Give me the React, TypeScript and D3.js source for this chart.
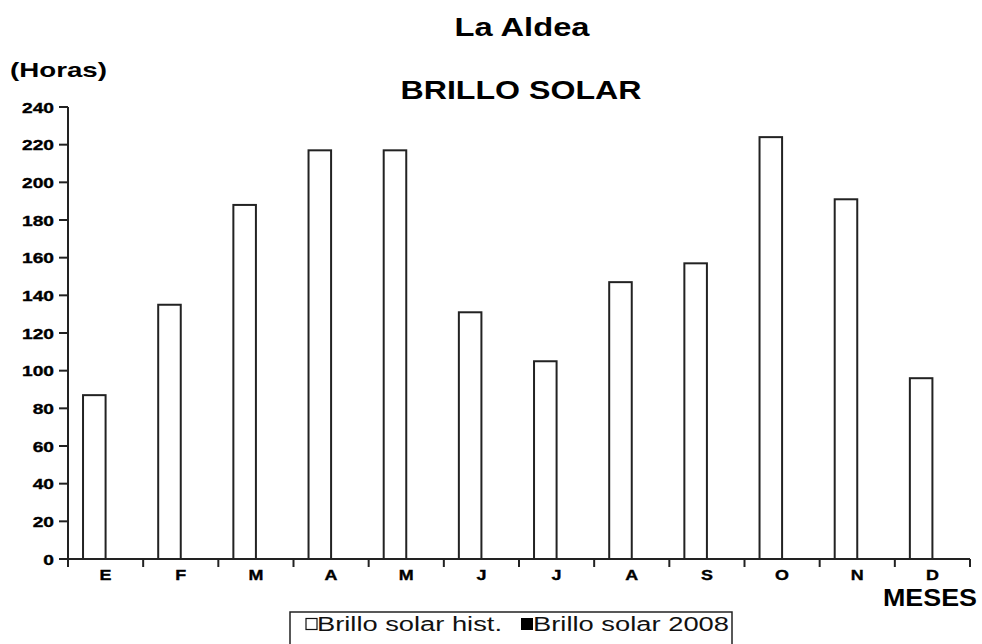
import React from "react";
import * as d3 from "d3";

const months = ["E", "F", "M", "A", "M", "J", "J", "A", "S", "O", "N", "D"];
const seriesNames = ["Brillo solar hist.", "Brillo solar 2008"];
const histValues = [87, 135, 188, 217, 217, 131, 105, 147, 157, 224, 191, 96];
const values2008: (number | null)[] = [null, null, null, null, null, null, null, null, null, null, null, null];
const yTicks = [0, 20, 40, 60, 80, 100, 120, 140, 160, 180, 200, 220, 240];

const W = 982;
const H = 644;
const left = 68;
const right = 970;
const top = 107;
const bottom = 559;
const FONT = "'Liberation Sans', Arial, sans-serif";
const SX = 1.28;

export default function App() {
  const idx = months.map((_, i) => String(i));
  const x = d3.scaleBand<string>().domain(idx).range([left, right]).paddingInner(0.4).paddingOuter(0.2);
  const xs = d3.scaleBand<string>().domain(["hist", "2008"]).range([0, x.bandwidth()]);
  const y = d3.scaleLinear().domain([0, 240]).range([bottom, top]);
  const step = x.step();
  const boundaries = d3.range(months.length + 1).map((i) => left + i * step);

  return (
    <svg width={W} height={H} style={{ position: "absolute", left: 0, top: 0, background: "#fff" }} fontFamily={FONT}>
      <rect x={0} y={0} width={W} height={H} fill="#fff" />
      {/* Titles */}
      <text x={522} y={36} textAnchor="middle" fontWeight="bold" fontSize={25} textLength={135} lengthAdjust="spacingAndGlyphs" fill="#000">La Aldea</text>
      <text x={10} y={77} fontWeight="bold" fontSize={21} textLength={97} lengthAdjust="spacingAndGlyphs" fill="#000">(Horas)</text>
      <text x={521} y={99} textAnchor="middle" fontWeight="bold" fontSize={25} textLength={241} lengthAdjust="spacingAndGlyphs" fill="#000">BRILLO SOLAR</text>

      {/* Bars */}
      {histValues.map((v, i) => (
        <rect key={"h" + i} x={(x(String(i)) as number) + (xs("hist") as number)} y={y(v)} width={xs.bandwidth()} height={y(0) - y(v)} fill="#fff" stroke="#222" strokeWidth={2} />
      ))}
      {values2008.map((v, i) =>
        v == null ? null : (
          <rect key={"n" + i} x={(x(String(i)) as number) + (xs("2008") as number)} y={y(v)} width={xs.bandwidth()} height={y(0) - y(v)} fill="#000" />
        )
      )}

      {/* Y axis */}
      <line x1={left} x2={left} y1={top} y2={bottom} stroke="#222" strokeWidth={2} />
      {yTicks.map((t) => (
        <g key={"y" + t} transform={`translate(0,${y(t)})`}>
          <line x1={left - 9} x2={left} y1={0} y2={0} stroke="#222" strokeWidth={2} />
          <g transform={`translate(54,5.5) scale(${SX},1)`}>
            <text textAnchor="end" fontWeight="bold" fontSize={15} fill="#000" stroke="#000" strokeWidth={0.35}>{t}</text>
          </g>
        </g>
      ))}

      {/* X axis */}
      <line x1={left} x2={right} y1={bottom} y2={bottom} stroke="#222" strokeWidth={2} />
      {boundaries.map((b, i) => (
        <line key={"xt" + i} x1={b} x2={b} y1={bottom} y2={bottom + 8} stroke="#222" strokeWidth={2} />
      ))}
      {months.map((m, i) => (
        <g key={"xl" + i} transform={`translate(${(x(String(i)) as number) + x.bandwidth() / 2},580) scale(${SX},1)`}>
          <text textAnchor="middle" fontWeight="bold" fontSize={14} fill="#000" stroke="#000" strokeWidth={0.35}>{m}</text>
        </g>
      ))}
      <text x={977} y={606} textAnchor="end" fontWeight="bold" fontSize={24} textLength={94} lengthAdjust="spacingAndGlyphs" fill="#000">MESES</text>

      {/* Legend */}
      <rect x={290} y={612} width={442} height={40} fill="#fff" stroke="#222" strokeWidth={1.5} />
      <rect x={306} y={618.5} width={11} height={11} fill="#fff" stroke="#111" strokeWidth={1.2} />
      <text x={317} y={630.5} fontSize={20} textLength={185} lengthAdjust="spacingAndGlyphs" fill="#111">{seriesNames[0]}</text>
      <rect x={521} y={618} width={12} height={12} fill="#000" />
      <text x={533} y={630.5} fontSize={20} textLength={196} lengthAdjust="spacingAndGlyphs" fill="#111">{seriesNames[1]}</text>
    </svg>
  );
}
